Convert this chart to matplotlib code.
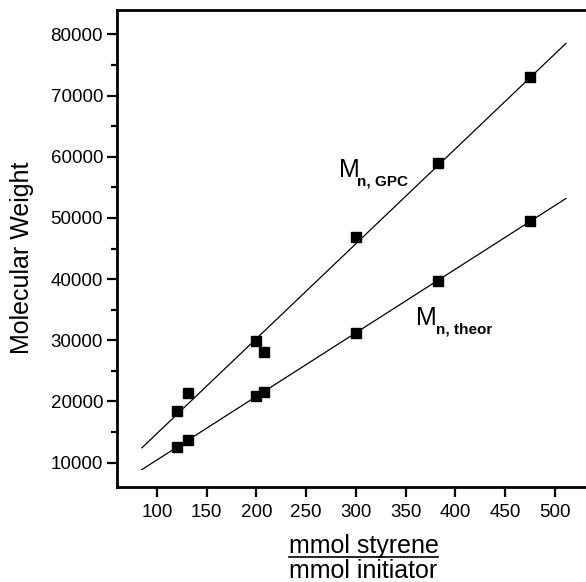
import numpy as np
import matplotlib
matplotlib.use('Agg')
import matplotlib.pyplot as plt
from matplotlib.lines import Line2D

plt.rcParams['font.family'] = ['Liberation Sans', 'DejaVu Sans']

# ratio mmol styrene / mmol initiator
ratio = [120, 131, 200, 208, 300, 382, 475]
# molecular weights
mn_gpc = [18500, 21300, 29800, 28000, 46800, 59000, 73000]
mn_theor = [12500, 13700, 20800, 21600, 31200, 39700, 49500]
line_range = [85, 511]

fig = plt.figure(figsize=(5.86, 5.82), dpi=100)
ax = fig.add_axes([117 / 586, 95 / 582, 1 - 117 / 586 + 0.01, 477 / 582])

xl = np.array(line_range)
for ys in (mn_gpc, mn_theor):
    k, b = np.polyfit(ratio, ys, 1)
    ax.plot(xl, k * xl + b, color='black', lw=0.9)
    ax.plot(ratio, ys, 's', color='black', ms=7)

ax.set_xlim(60, 537)
ax.set_ylim(6000, 84000)
ax.set_xticks(np.arange(100, 501, 50))
ax.set_yticks(np.arange(10000, 80001, 10000))
ax.set_yticks(np.arange(15000, 80001, 10000), minor=True)

for s in ['left', 'bottom', 'top']:
    ax.spines[s].set_linewidth(2)
ax.spines['right'].set_visible(False)
ax.tick_params(axis='both', which='major', direction='out', length=7, width=1.6,
               labelsize=13.5, pad=3)
ax.tick_params(axis='x', pad=5)
ax.tick_params(axis='y', which='minor', direction='out', length=4, width=1.6)
ax.tick_params(top=False, right=False)

# series labels
ax.text(282.5, 56650, 'M', fontsize=18, ha='left', va='baseline')
ax.text(301.5, 55340, 'n, GPC', fontsize=11, fontweight='bold', ha='left', va='baseline')
ax.text(360, 32480, 'M', fontsize=18, ha='left', va='baseline')
ax.text(380, 31180, 'n, theor', fontsize=11, fontweight='bold', ha='left', va='baseline')

fig.text(22 / 586, 1 - 258 / 582, 'Molecular Weight', rotation=90,
         ha='center', va='center', fontsize=18)

t1 = fig.text(363.5 / 586, 1 - 553 / 582, 'mmol styrene', ha='center', va='baseline', fontsize=18)
fig.text(363.5 / 586, 1 - 578 / 582, 'mmol initiator', ha='center', va='baseline', fontsize=18)
fig.canvas.draw()
bb = t1.get_window_extent().transformed(fig.transFigure.inverted())
fig.add_artist(Line2D([bb.x0, bb.x1], [1 - 557 / 582] * 2, color='black', lw=1.2,
                      transform=fig.transFigure))

fig.savefig('out.png', dpi=100)
